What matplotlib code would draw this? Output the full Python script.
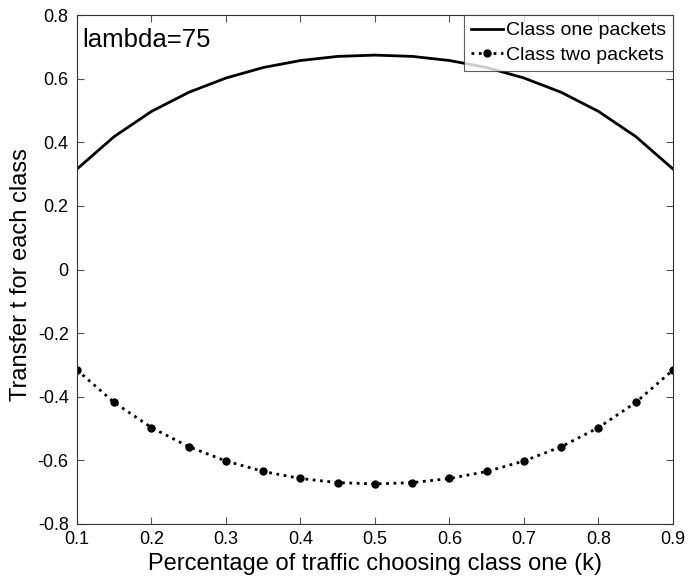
import numpy as np
import matplotlib
matplotlib.use("Agg")
import matplotlib.pyplot as plt

plt.rcParams['font.family'] = ['Liberation Sans', 'DejaVu Sans']

# share of traffic choosing class one
k = [0.10, 0.15, 0.20, 0.25, 0.30, 0.35, 0.40, 0.45, 0.50,
     0.55, 0.60, 0.65, 0.70, 0.75, 0.80, 0.85, 0.90]
t_class_one = [0.316, 0.418, 0.497, 0.557, 0.602, 0.635, 0.657, 0.670, 0.674,
               0.670, 0.657, 0.635, 0.602, 0.557, 0.497, 0.418, 0.316]
t_class_two = [-0.316, -0.418, -0.497, -0.557, -0.602, -0.635, -0.657, -0.670, -0.674,
               -0.670, -0.657, -0.635, -0.602, -0.557, -0.497, -0.418, -0.316]

xticks = [0.1, 0.2, 0.3, 0.4, 0.5, 0.6, 0.7, 0.8, 0.9]
yticks = [-0.8, -0.6, -0.4, -0.2, 0, 0.2, 0.4, 0.6, 0.8]

fig = plt.figure(figsize=(6.88, 5.85), dpi=100)
ax = fig.add_axes([0.1119, 0.1043, 0.8663, 0.870])

ax.plot(k, t_class_one, color='black', linewidth=2, label='Class one packets')
ax.plot(k, t_class_two, color='black', linewidth=2, linestyle=':',
        marker='o', markersize=5, label='Class two packets')

ax.set_xlim(0.1, 0.9)
ax.set_ylim(-0.8, 0.8)
ax.set_xticks(xticks)
ax.set_yticks(yticks)
ax.set_xticklabels([f'{v:g}' for v in xticks])
ax.set_yticklabels([f'{v:g}' for v in yticks])
ax.tick_params(direction='in', top=True, right=True, labelsize=13, length=5,
               color='#555555', pad=5)
ax.tick_params(axis='y', pad=6)
for s in ax.spines.values():
    s.set_linewidth(0.8)
    s.set_color('#333333')

ax.set_xlabel('Percentage of traffic choosing class one (k)', fontsize=17, labelpad=4)
ax.set_ylabel('Transfer t for each class', fontsize=17)
ax.yaxis.set_label_coords(-0.076, 0.49)

ax.text(0.008, 0.975, 'lambda=75', transform=ax.transAxes, fontsize=18.5,
        va='top', ha='left')

leg = ax.legend(loc='upper right', fontsize=14, frameon=True, fancybox=False,
                edgecolor='#333333', borderaxespad=0, handlelength=1.65,
                handletextpad=0.15, borderpad=0.35, labelspacing=0.35)
leg.get_frame().set_linewidth(0.8)

fig.savefig('out.png', dpi=100)
